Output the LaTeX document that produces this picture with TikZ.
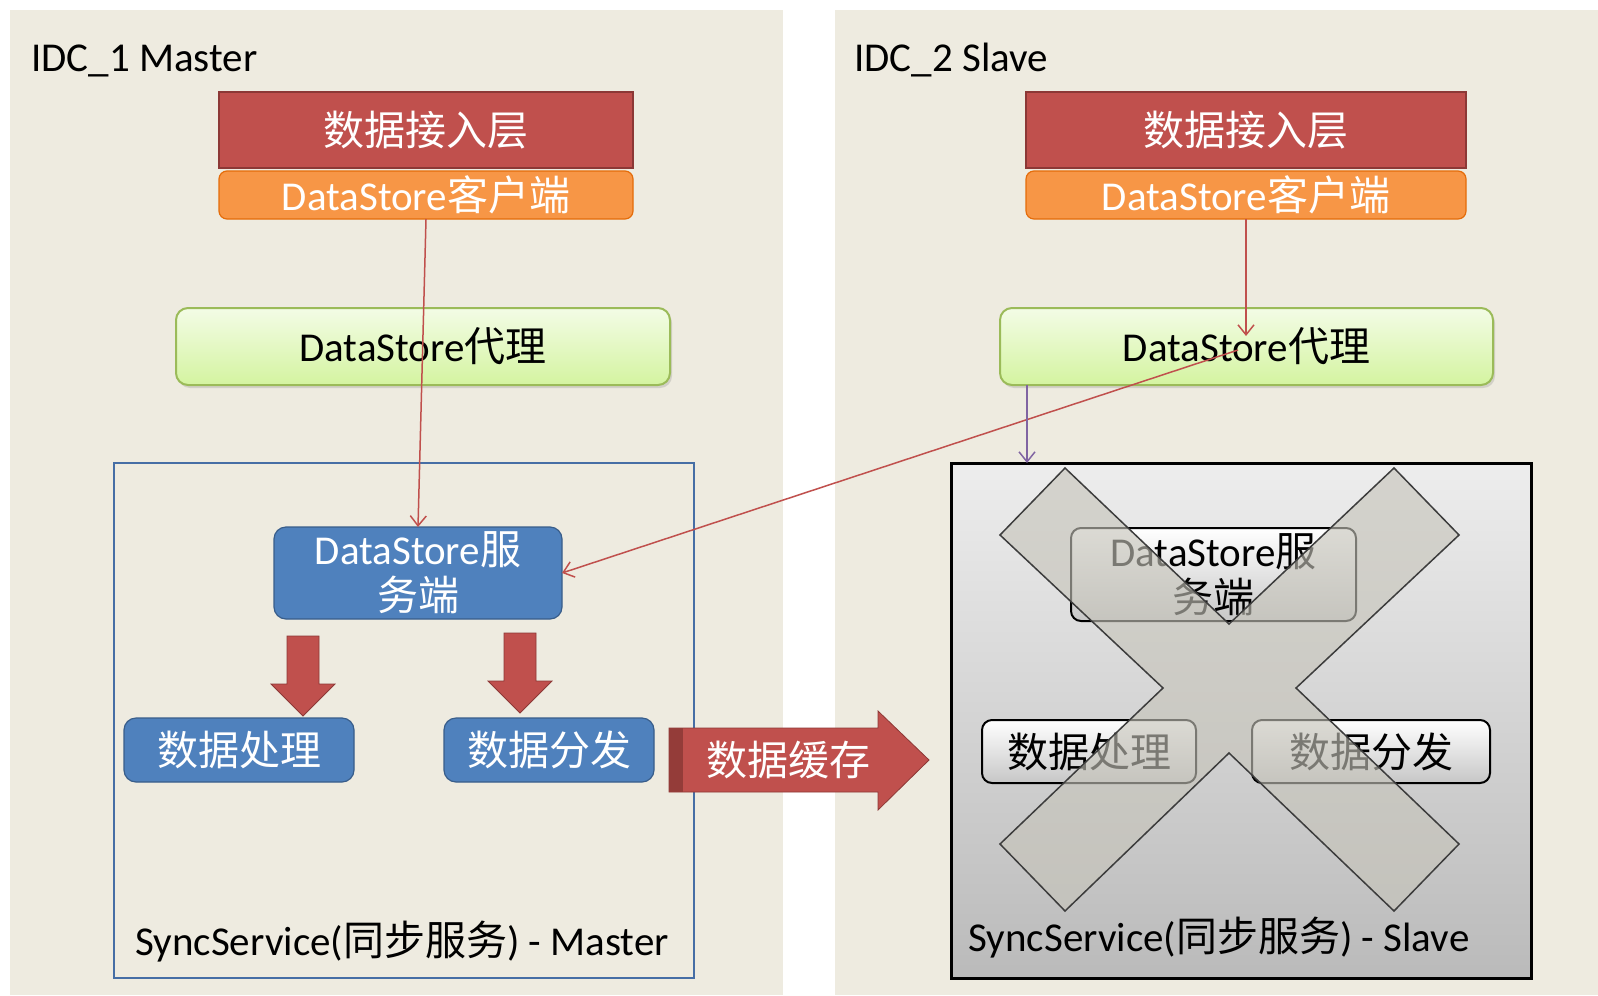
\documentclass[tikz,border=0pt]{standalone}
\usepackage{fontspec}
\setmainfont{Carlito}
\newfontfamily\cjk{Noto Sans CJK SC}
\usetikzlibrary{arrows.meta,shadows}

\definecolor{panel}{RGB}{238,235,224}
\definecolor{accred}{RGB}{192,80,77}
\definecolor{accredD}{RGB}{140,56,54}
\definecolor{accorange}{RGB}{247,150,70}
\definecolor{accorangeD}{RGB}{228,108,10}
\definecolor{accblue}{RGB}{79,129,189}
\definecolor{accblueD}{RGB}{56,93,138}
\definecolor{framblue}{RGB}{70,110,165}
\definecolor{accgreenD}{RGB}{155,187,89}
\definecolor{greenTop}{RGB}{243,252,230}
\definecolor{greenBot}{RGB}{212,244,160}
\definecolor{accpurple}{RGB}{128,100,162}
\definecolor{xfill}{RGB}{198,196,186}
\definecolor{xline}{RGB}{60,60,60}

\newcommand\dgfont{\fontsize{20.5}{23}\selectfont}
% downward block arrow: centre x, top y, tip y
\newcommand\blockdown[3]{%
  \filldraw[fill=accred, draw=accredD, line width=0.4pt]
    ({#1-16},#2) -- ({#1+16},#2) -- ({#1+16},{#3-32}) -- ({#1+32},{#3-32})
    -- (#1,#3) -- ({#1-32},{#3-32}) -- ({#1-16},{#3-32}) -- cycle;}

\begin{document}
\begin{tikzpicture}[x=0.5pt,y=-0.5pt,
  every node/.style={font=\dgfont},
  box/.style={inner sep=0pt, outer sep=0pt},
  layer/.style={box, fill=accred, draw=accredD, line width=1pt, text=white},
  client/.style={box, fill=accorange, draw=accorangeD, line width=0.6pt, rounded corners=4pt, text=white},
  proxy/.style={box, top color=greenTop, bottom color=greenBot, draw=accgreenD, line width=1pt,
    rounded corners=6pt, drop shadow={shadow xshift=1pt, shadow yshift=-1.5pt, opacity=0.25}},
  svc/.style={box, fill=accblue, draw=accblueD, line width=0.6pt, rounded corners=6pt, text=white},
  dead/.style={box, top color=white, bottom color=black!22, draw=black, line width=1pt, rounded corners=5pt},
  lbl/.style={inner sep=0pt, anchor=base west},
  flow/.style={draw=accred, line width=0.75pt, -{Straight Barb[length=5pt,width=8pt]}},
  tapflow/.style={draw=accpurple, line width=0.75pt, -{Straight Barb[length=5pt,width=8pt]}}
]
\useasboundingbox (0,0) rectangle (1598,995);
\fill[white] (0,0) rectangle (1598,995);

% data-centre panels
\fill[panel] (10,10) rectangle (783,995);
\fill[panel] (835,10) rectangle (1598,995);
\node[lbl] (l-title) at (31,72) {IDC\_1 Master};
\node[lbl] (r-title) at (854,72) {IDC\_2 Slave};

% ---------- IDC_1 (master) ----------
\node[layer, minimum width=207pt, minimum height=38pt] (l-layer) at (426,130) {\cjk 数据接入层};
\node[client, minimum width=207pt, minimum height=24pt] (l-client) at (426,195) {DataStore{\cjk 客户端}};
\node[proxy, minimum width=247pt, minimum height=38.5pt] (l-proxy) at (423,346.5) {DataStore{\cjk 代理}};

\node[box, draw=framblue, line width=1pt, minimum width=290pt, minimum height=257.5pt] (l-sync) at (404,720.5) {};
\node[svc, minimum width=144pt, minimum height=46pt, align=center] (l-ds) at (418,573)
  {DataStore{\cjk 服}\\{\cjk 务端}};
\node[svc, minimum width=115pt, minimum height=32pt] (l-proc) at (239,750) {\cjk 数据处理};
\node[svc, minimum width=105pt, minimum height=32pt] (l-dist) at (549,750) {\cjk 数据分发};
\blockdown{303}{636}{716}
\blockdown{520}{633}{713}
\node[lbl] (l-sync-label) at (135,955) {SyncService({\cjk 同步服务}) - Master};

% replication arrow towards the slave
\filldraw[fill=accred, draw=accredD, line width=0.4pt]
  (669,728) -- (878,728) -- (878,711) -- (929,760) -- (878,810) -- (878,792) -- (669,792) -- cycle;
\fill[accredD!85!accred] (669,728) rectangle (683,792);
\node[text=white] (cache) at (788,760) {\cjk 数据缓存};

% ---------- IDC_2 (slave) ----------
\node[layer, minimum width=220pt, minimum height=38pt] (r-layer) at (1246,130) {\cjk 数据接入层};
\node[client, minimum width=220pt, minimum height=24pt] (r-client) at (1246,195) {DataStore{\cjk 客户端}};
\node[proxy, minimum width=246.5pt, minimum height=38.5pt] (r-proxy) at (1246.5,346.5) {DataStore{\cjk 代理}};

\node[box, top color=black!7, bottom color=black!27, draw=black, line width=1.5pt,
  minimum width=290pt, minimum height=257.5pt] (r-sync) at (1241,720.5) {};
\node[dead, minimum width=142.5pt, minimum height=46.5pt, align=center] (r-ds) at (1213.5,574.5)
  {DataStore{\cjk 服}\\{\cjk 务端}};
\node[dead, minimum width=107pt, minimum height=31.5pt] (r-proc) at (1089,751.5) {\cjk 数据处理};
\node[dead, minimum width=119pt, minimum height=31.5pt] (r-dist) at (1371,751.5) {\cjk 数据分发};
\node[lbl] (r-sync-label) at (968,951) {SyncService({\cjk 同步服务}) - Slave};

% the slave service is out of action
\filldraw[fill=xfill, fill opacity=0.62, draw=xline, line width=0.75pt, line join=miter]
  (1000,535) -- (1065,468) -- (1229,624) -- (1394,468) -- (1459,535) -- (1296,688)
  -- (1459,844) -- (1394,911) -- (1229,753) -- (1065,911) -- (1000,844) -- (1163,688) -- cycle;

% ---------- request flow ----------
\draw[flow] (l-client.south) -- (l-ds.north);
\coordinate (r-hit) at (1246,336);
\draw[flow] (r-client.south) -- (r-hit);
\coordinate (r-src) at (1238,350);
\draw[flow] (r-src) -- (l-ds.east);
\coordinate (r-tap) at (1027,385);
\draw[tapflow] (r-tap) -- (r-tap |- r-sync.north);
\end{tikzpicture}
\end{document}
